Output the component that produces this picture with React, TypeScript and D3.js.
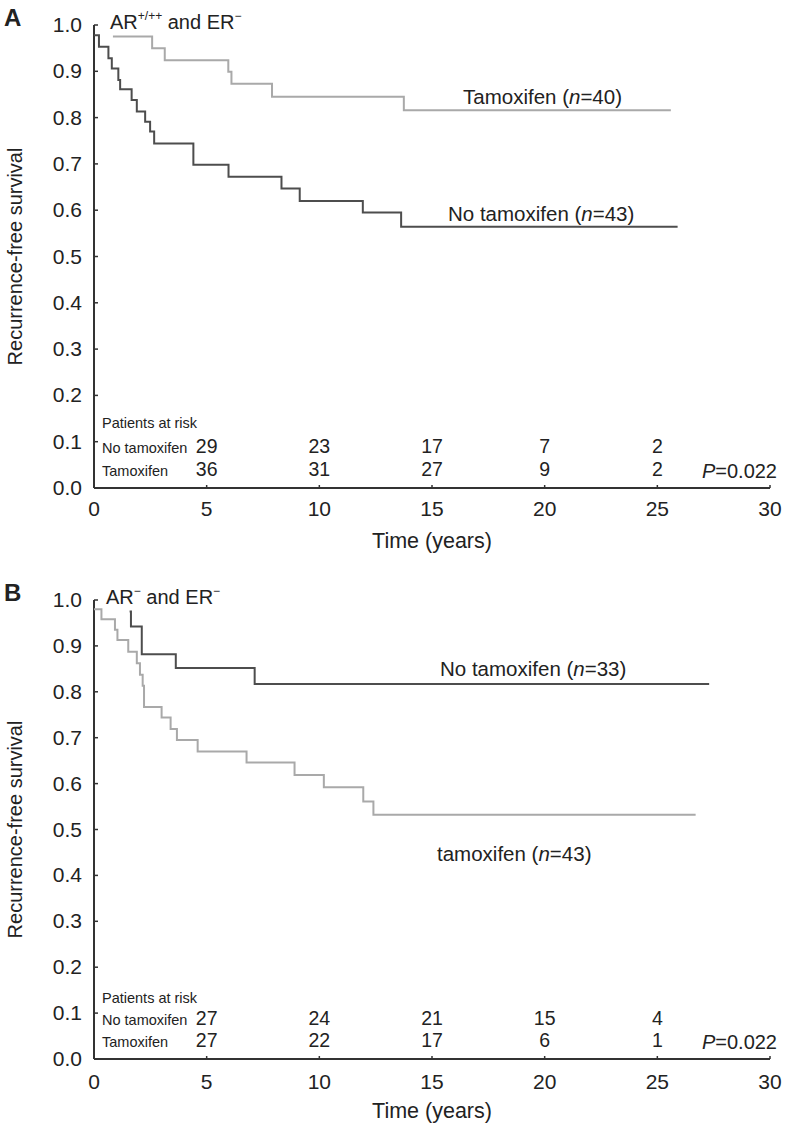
import React from "react";
import * as d3 from "d3";

const timeTicks = [0, 5, 10, 15, 20, 25, 30];
const survTicks = [0, 0.1, 0.2, 0.3, 0.4, 0.5, 0.6, 0.7, 0.8, 0.9, 1.0];
const riskTimes = [5, 10, 15, 20, 25];

// Panel A: AR+/++ and ER-
const aNoTam: [number, number][] = [
  [0, 0.978], [0.22, 0.953], [0.64, 0.928], [0.79, 0.906], [1.08, 0.881], [1.16, 0.861],
  [1.67, 0.838], [1.9, 0.813], [2.27, 0.791], [2.49, 0.77], [2.67, 0.744], [4.41, 0.698],
  [5.97, 0.672], [8.32, 0.647], [9.13, 0.62], [11.93, 0.595], [13.63, 0.564], [25.9, 0.564],
];
const aTam: [number, number][] = [
  [0.84, 0.975], [2.58, 0.95], [3.14, 0.924], [5.96, 0.899], [6.1, 0.873], [7.9, 0.845],
  [13.75, 0.816], [25.6, 0.816],
];
const aRiskNoTam = [29, 23, 17, 7, 2];
const aRiskTam = [36, 31, 27, 9, 2];

// Panel B: AR- and ER-
const bNoTam: [number, number][] = [
  [1.58, 0.975], [1.64, 0.942], [2.12, 0.882], [3.63, 0.852], [7.13, 0.817], [27.3, 0.817],
];
const bTam: [number, number][] = [
  [0, 0.98], [0.33, 0.958], [0.93, 0.935], [1.04, 0.913], [1.52, 0.887], [1.9, 0.862],
  [2.04, 0.837], [2.16, 0.813], [2.22, 0.767], [3.0, 0.744], [3.4, 0.719], [3.68, 0.695],
  [4.6, 0.67], [6.77, 0.646], [8.9, 0.619], [10.2, 0.592], [11.95, 0.561], [12.4, 0.532],
  [26.7, 0.532],
];
const bRiskNoTam = [27, 24, 21, 15, 4];
const bRiskTam = [27, 22, 17, 6, 1];

const FONT = "'Liberation Sans', Arial, Helvetica, sans-serif";
const TXT = "#222";
const DARK = "#4d4d4d";
const LIGHT = "#a9a9a9";

interface PanelProps {
  letter: string;
  top: number;
  bottom: number;
  title: React.ReactNode;
  curves: { data: [number, number][]; color: string }[];
  labels: { text: string; n: number; x: number; y: number }[];
  riskNo: number[];
  riskTam: number[];
  riskY: [number, number, number];
  pY: number;
  tickY: number;
  xTitleY: number;
}

function Panel(p: PanelProps) {
  const x = d3.scaleLinear().domain([0, 30]).range([94, 770]);
  const y = d3.scaleLinear().domain([0, 1]).range([p.bottom, p.top]);
  const line = d3
    .line<[number, number]>()
    .x((d) => x(d[0]))
    .y((d) => y(d[1]))
    .curve(d3.curveStepAfter);
  return (
    <g fontFamily={FONT} fill={TXT}>
      <text x={4} y={p.top + 1} fontSize={24} fontWeight="bold">{p.letter}</text>
      {p.title}
      {/* axes */}
      <line x1={x(0)} x2={x(0)} y1={y(1)} y2={y(0)} stroke="#333" strokeWidth={2} />
      <line x1={x(0)} x2={x(30)} y1={y(0)} y2={y(0)} stroke="#333" strokeWidth={2} />
      {survTicks.map((t) => (
        <g key={"y" + t}>
          <line x1={x(0)} x2={x(0) + 4} y1={y(t)} y2={y(t)} stroke="#333" strokeWidth={1.5} />
          <text x={82} y={y(t) + 7} fontSize={21} textAnchor="end">{t.toFixed(1)}</text>
        </g>
      ))}
      {timeTicks.map((t) => (
        <g key={"x" + t}>
          <line x1={x(t)} x2={x(t)} y1={y(0)} y2={y(0) - 3} stroke="#333" strokeWidth={1.5} />
          <text x={x(t)} y={p.tickY} fontSize={21} textAnchor="middle">{t}</text>
        </g>
      ))}
      <text x={432} y={p.xTitleY} fontSize={21.5} textAnchor="middle">Time (years)</text>
      <text
        transform={`translate(22,${(y(0) + y(1)) / 2}) rotate(-90)`}
        fontSize={20}
        textAnchor="middle"
      >
        Recurrence-free survival
      </text>
      {p.curves.map((c, i) => (
        <path key={i} d={line(c.data) || ""} fill="none" stroke={c.color} strokeWidth={2} />
      ))}
      {p.labels.map((l, i) => (
        <text key={i} x={l.x} y={l.y} fontSize={20.5}>
          {l.text} (<tspan fontStyle="italic">n</tspan>={l.n})
        </text>
      ))}
      {/* patients at risk */}
      <text x={102} y={p.riskY[0]} fontSize={14.5}>Patients at risk</text>
      <text x={102} y={p.riskY[1]} fontSize={14.5}>No tamoxifen</text>
      <text x={102} y={p.riskY[2]} fontSize={14.5}>Tamoxifen</text>
      {riskTimes.map((t, i) => (
        <g key={"r" + t}>
          <text x={x(t)} y={p.riskY[1]} fontSize={19.5} textAnchor="middle">{p.riskNo[i]}</text>
          <text x={x(t)} y={p.riskY[2]} fontSize={19.5} textAnchor="middle">{p.riskTam[i]}</text>
        </g>
      ))}
      <text x={777} y={p.pY} fontSize={20} textAnchor="end">
        <tspan fontStyle="italic">P</tspan>=0.022
      </text>
    </g>
  );
}

export default function App() {
  return (
    <svg
      width={785}
      height={1125}
      viewBox="0 0 785 1125"
      style={{ position: "absolute", left: 0, top: 0, background: "#fff" }}
    >
      <rect width={785} height={1125} fill="#fff" />
      <Panel
        letter="A"
        top={25}
        bottom={488}
        title={
          <text x={110} y={29} fontSize={20}>
            AR<tspan fontSize={12} dy={-9}>+/++</tspan>
            <tspan dy={9}> and ER</tspan>
            <tspan fontSize={12} dy={-9}>−</tspan>
          </text>
        }
        curves={[
          { data: aTam, color: LIGHT },
          { data: aNoTam, color: DARK },
        ]}
        labels={[
          { text: "Tamoxifen", n: 40, x: 463, y: 104 },
          { text: "No tamoxifen", n: 43, x: 448, y: 221 },
        ]}
        riskNo={aRiskNoTam}
        riskTam={aRiskTam}
        riskY={[428, 453, 476]}
        pY={478}
        tickY={516}
        xTitleY={548}
      />
      <Panel
        letter="B"
        top={600}
        bottom={1059}
        title={
          <text x={106} y={604} fontSize={20}>
            AR<tspan fontSize={12} dy={-9}>−</tspan>
            <tspan dy={9}> and ER</tspan>
            <tspan fontSize={12} dy={-9}>−</tspan>
          </text>
        }
        curves={[
          { data: bTam, color: LIGHT },
          { data: bNoTam, color: DARK },
        ]}
        labels={[
          { text: "No tamoxifen", n: 33, x: 440, y: 676 },
          { text: "tamoxifen", n: 43, x: 437, y: 861 },
        ]}
        riskNo={bRiskNoTam}
        riskTam={bRiskTam}
        riskY={[1003, 1025, 1047]}
        pY={1049}
        tickY={1089}
        xTitleY={1118}
      />
    </svg>
  );
}
